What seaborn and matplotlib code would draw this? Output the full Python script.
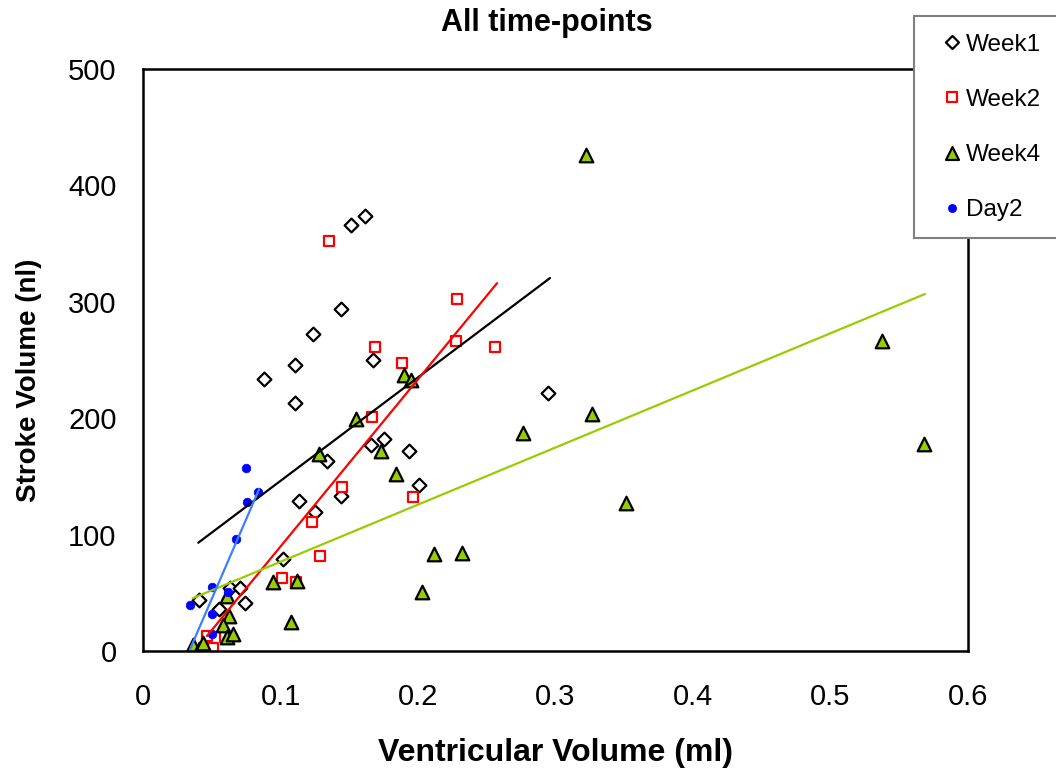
import numpy as np
import pandas as pd
import matplotlib
matplotlib.use("Agg")
import matplotlib.pyplot as plt
import seaborn as sns
from matplotlib.patches import Rectangle

# ---------------- data ----------------
week1_x = [0.0407, 0.0555, 0.0635, 0.0705, 0.0742, 0.1016, 0.0880, 0.1103, 0.1103,
           0.1234, 0.1438, 0.1510, 0.1613, 0.1670, 0.1656, 0.1753, 0.1932, 0.2005,
           0.1336, 0.1132, 0.1438, 0.1251, 0.2945]
week1_y = [44, 36, 54, 54, 41, 79, 234, 246, 213,
           272, 294, 366, 374, 250, 177, 182, 172, 143,
           163, 129, 133, 119, 222]

week2_x = [0.1355, 0.2286, 0.2274, 0.2562, 0.1690, 0.1881, 0.1663, 0.1445, 0.1966,
           0.1227, 0.1287, 0.1009, 0.1110, 0.0468, 0.0507, 0.0596]
week2_y = [352, 302, 266, 261, 261, 247, 201, 141, 132,
           111, 82, 63, 59, 13, 3, 12]

week4_x = [0.3222, 0.5375, 0.5680, 0.3268, 0.2761, 0.3513, 0.1896, 0.1947, 0.1551,
           0.1280, 0.1729, 0.1843, 0.2119, 0.2322, 0.2031, 0.0943, 0.1118, 0.1074,
           0.0613, 0.0628, 0.0584, 0.0609, 0.0657, 0.0366, 0.0410, 0.0439]
week4_y = [426, 266, 178, 204, 187, 127, 237, 233, 199,
           169, 172, 152, 83, 84, 51, 59, 60, 25,
           47, 30, 22, 12, 15, 5, 2, 7]

day2_x = [0.0749, 0.0834, 0.0759, 0.0676, 0.0500, 0.0620, 0.0342, 0.0500, 0.0500]
day2_y = [157.5, 137, 128, 96, 55, 51, 39.5, 32, 15]

# linear trend lines (end points)
trend_week1_x = [0.0402, 0.2960]
trend_week1_y = [93.0, 320.4]
trend_week2_x = [0.0465, 0.2575]
trend_week2_y = [12.9, 316.0]
trend_week4_x = [0.0361, 0.5687]
trend_week4_y = [45.3, 306.7]
trend_day2_x = [0.0342, 0.0844]
trend_day2_y = [1.5, 138.9]

series_labels = ["Week1", "Week2", "Week4", "Day2"]
x_ticks = [0, 0.1, 0.2, 0.3, 0.4, 0.5, 0.6]
x_tick_labels = ["0", "0.1", "0.2", "0.3", "0.4", "0.5", "0.6"]
y_ticks = [0, 100, 200, 300, 400, 500]

# ---------------- style ----------------
sns.set_theme(style="white")
plt.rcParams['font.family'] = ['Liberation Sans', 'DejaVu Sans']
plt.rcParams['text.color'] = 'black'
plt.rcParams['axes.labelcolor'] = 'black'
plt.rcParams['xtick.color'] = 'black'
plt.rcParams['ytick.color'] = 'black'

W, H = 1056, 769
fig = plt.figure(figsize=(W / 100, H / 100), dpi=100)
ax = fig.add_axes([143 / W, 1 - 651 / H, (968 - 143) / W, (651 - 69) / H])

GREEN = "#99CC00"
BLUE_LINE = "#3D7EFF"

df1 = pd.DataFrame({"x": week1_x, "y": week1_y})
df2 = pd.DataFrame({"x": week2_x, "y": week2_y})
df4 = pd.DataFrame({"x": week4_x, "y": week4_y})
dfd = pd.DataFrame({"x": day2_x, "y": day2_y})

sns.scatterplot(data=df1, x="x", y="y", ax=ax, marker="D", s=7.0 ** 2,
                color="black", facecolor="white", edgecolor="black",
                linewidth=1.6, label=series_labels[0], zorder=2)
sns.scatterplot(data=df2, x="x", y="y", ax=ax, marker="s", s=7.8 ** 2,
                color="red", facecolor="white", edgecolor="#FF0000",
                linewidth=1.6, label=series_labels[1], zorder=2)
sns.scatterplot(data=df4, x="x", y="y", ax=ax, marker="^", s=9.8 ** 2,
                color=GREEN, facecolor=GREEN, edgecolor="black",
                linewidth=1.6, label=series_labels[2], zorder=2)
sns.scatterplot(data=dfd, x="x", y="y", ax=ax, marker="o", s=6.2 ** 2,
                color="#0000FF", facecolor="#0000FF", edgecolor="#0000FF",
                linewidth=0.5, label=series_labels[3], zorder=2)

for tx, ty, c in [(trend_week1_x, trend_week1_y, "black"),
                  (trend_week2_x, trend_week2_y, "#FF0000"),
                  (trend_week4_x, trend_week4_y, GREEN),
                  (trend_day2_x, trend_day2_y, BLUE_LINE)]:
    sns.lineplot(x=tx, y=ty, ax=ax, color=c, linewidth=1.6, sort=False,
                 estimator=None, legend=False, zorder=3)

ax.set_xlim(0, 0.6)
ax.set_ylim(0, 500)
ax.set_xticks(x_ticks)
ax.set_xticklabels(x_tick_labels)
ax.set_yticks(y_ticks)
ax.set_yticklabels([str(v) for v in y_ticks])

for sp in ax.spines.values():
    sp.set_color("black")
    sp.set_linewidth(1.8)
    sp.set_visible(True)

ax.tick_params(axis="both", direction="out", length=7, width=1.2,
               color="#808080", labelsize=21, labelcolor="black")
ax.tick_params(axis="x", pad=16)
ax.tick_params(axis="y", pad=12)

ax.set_xlabel("Ventricular Volume (ml)", fontsize=23, fontweight="bold")
ax.set_ylabel("Stroke Volume (nl)", fontsize=20, fontweight="bold")
ax.xaxis.set_label_coords(0.5, (651 - 738) / 582)
ax.yaxis.set_label_coords((42 - 143) / 825, (651 - 380) / 582)
ax.set_title("All time-points", fontsize=22, fontweight="bold",
             x=(546.5 - 143) / 825, y=(651 - 31) / 582, pad=0)

# legend (frame drawn as a separate rectangle so it matches the reference box)
ax.get_legend().remove()
handles, labels = ax.get_legend_handles_labels()
rect = Rectangle((914 / W, 1 - 238 / H), (1080 - 914) / W, (238 - 16) / H,
                 transform=fig.transFigure, facecolor="white",
                 edgecolor="#808080", linewidth=1.5, zorder=4)
fig.patches.append(rect)
leg = fig.legend(handles, labels, loc="center left",
                 bbox_to_anchor=(944.7 / W, 1 - 127.5 / H),
                 bbox_transform=fig.transFigure, frameon=False,
                 borderpad=0, borderaxespad=0, handlelength=0.6,
                 handletextpad=0.28, labelspacing=1.36, markerscale=0.95,
                 scatteryoffsets=[0.5], fontsize=17.5)
for t in leg.get_texts():
    t.set_color("black")
leg.set_zorder(6)

fig.savefig("out.png", dpi=100)
